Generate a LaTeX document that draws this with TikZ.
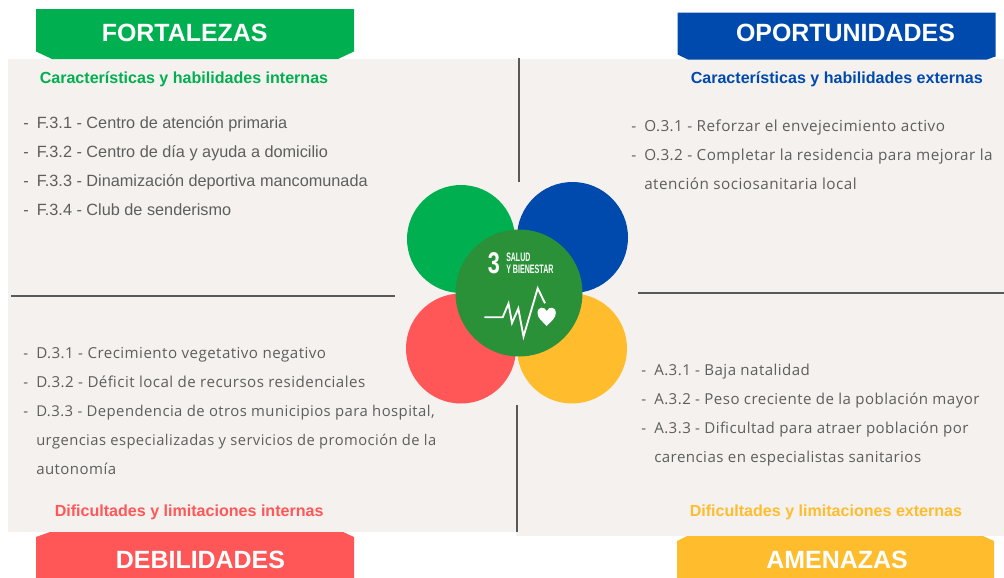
\documentclass[tikz,border=0pt]{standalone}
\usepackage{fontspec}
\setmainfont{Liberation Sans}
\newfontfamily\bodyfont[LetterSpace=3]{Open Sans}
\definecolor{cgreen}{HTML}{00B050}
\definecolor{cblue}{HTML}{004AAD}
\definecolor{cred}{HTML}{FF5757}
\definecolor{cyellow}{HTML}{FFBD2E}
\definecolor{csdg}{HTML}{2A9139}
\definecolor{cpanel}{HTML}{F4F1EE}
\definecolor{ctext}{HTML}{5E5E5E}
\definecolor{crule}{HTML}{595959}
\tikzset{
  x=0.75pt,y=-0.75pt,
  banner/.style={anchor=base,inner sep=0pt,text=white,font=\bfseries\fontsize{18.7}{18.7}\selectfont},
  subhead/.style={anchor=base west,inner sep=0pt,font=\bfseries\fontsize{12.05}{13}\selectfont},
  arialitem/.style={anchor=base west,inner sep=0pt,text=ctext,font=\fontsize{12.2}{13}\selectfont},
  bodyitem/.style={anchor=base west,inner sep=0pt,text=ctext,font=\bodyfont\fontsize{#1}{13}\selectfont},
  bodyitem/.default=11.25,
  divider/.style={draw=crule,line width=1.5pt},
  icontext/.style={anchor=base west,inner sep=0pt,text=white},
}
\begin{document}
\begin{tikzpicture}
\useasboundingbox (0,0) rectangle (1004,578);
% panels
\fill[cpanel] (8,59) rectangle (516,532);
\fill[cpanel] (516,59) rectangle (1004,536);
% dividers
\coordinate (vta) at (518.5,58); \coordinate (vtb) at (518.5,182);
\coordinate (vba) at (517,405); \coordinate (vbb) at (517,532);
\coordinate (hla) at (11,295.5); \coordinate (hlb) at (395,295.5);
\coordinate (hra) at (638,293); \coordinate (hrb) at (1004,293);
\draw[divider] (vta) -- (vtb);
\draw[divider] (vba) -- (vbb);
\draw[divider] (hla) -- (hlb);
\draw[divider] (hra) -- (hrb);
% banners
\fill[cgreen] (36,9) -- (354,9) -- (354,51.5) -- (338,59) -- (52,59) -- (36,51.5) -- cycle;
\fill[cblue] (677.5,12.5) -- (995.5,12.5) -- (995.5,56.5) -- (987,59.5) -- (688,59.5) -- (677.5,54.5) -- cycle;
\fill[cred] (50,532) -- (343,532) -- (354,537) -- (354,578) -- (36,578) -- (36,537) -- cycle;
\fill[cyellow] (687,536) -- (983,536) -- (994,541) -- (994,578) -- (677,578) -- (677,541) -- cycle;
\node[banner] (fort) at (184.7,41) {FORTALEZAS};
\node[banner] (opor) at (845.5,41) {OPORTUNIDADES};
\node[banner] (debi) at (200.5,568) {DEBILIDADES};
\node[banner] (amen) at (837,568) {AMENAZAS};
% subheads
\node[subhead,text=cgreen] (sf) at (39.5,83.2) {Características y habilidades internas};
\node[subhead,text=cblue] (so) at (690.5,83.2) {Características y habilidades externas};
\node[subhead,text=cred] (sd) at (54.5,516.2) {Dificultades y limitaciones internas};
\node[subhead,text=cyellow] (sa) at (689.5,516.2) {Dificultades y limitaciones externas};
% F
\foreach \n/\y/\t in {1/128/{F.3.1 - Centro de atención primaria},2/157/{F.3.2 - Centro de día y ayuda a domicilio},3/186/{F.3.3 - Dinamización deportiva mancomunada},4/215/{F.3.4 - Club de senderismo}}{
  \node[arialitem] (fd\n) at (23,\y) {-};
  \node[arialitem] (f\n) at (36.5,\y) {\t};
}
% D
\foreach \n/\y/\s/\t in {1/358.3/11.35/{D.3.1 - Crecimiento vegetativo negativo},2/387.5/11.35/{D.3.2 - Déficit local de recursos residenciales},3/416.5/11.15/{D.3.3 - Dependencia de otros municipios para hospital,}}{
  \node[bodyitem] (dd\n) at (23,\y) {-};
  \node[bodyitem=\s] (d\n) at (36,\y) {\t};
}
\node[bodyitem=11.05] (d4) at (36,445.5) {urgencias especializadas y servicios de promoción de la};
\node[bodyitem] (d5) at (36,474.5) {autonomía};
% O
\foreach \n/\y/\t in {1/131.5/{O.3.1 - Reforzar el envejecimiento activo},2/160.7/{O.3.2 - Completar la residencia para mejorar la}}{
  \node[bodyitem=11.45] (od\n) at (631,\y) {-};
  \node[bodyitem=11.45] (o\n) at (644,\y) {\t};
}
\node[bodyitem=11.45] (o3) at (644,189.8) {atención sociosanitaria local};
% A
\foreach \n/\y/\t in {1/375/{A.3.1 - Baja natalidad},2/404/{A.3.2 - Peso creciente de la población mayor},3/433.5/{A.3.3 - Dificultad para atraer población por}}{
  \node[bodyitem=11.3] (ad\n) at (641,\y) {-};
  \node[bodyitem=11.3] (a\n) at (654,\y) {\t};
}
\node[bodyitem=11.3] (a4) at (654,462.7) {carencias en especialistas sanitarios};
% circles
\fill[cgreen] (461,239) circle[radius=54];
\fill[cblue] (572.5,237.5) circle[radius=55.5];
\fill[cred] (461,348.5) circle[radius=55];
\fill[cyellow] (572,348.5) circle[radius=55];
\fill[csdg] (519,293) circle[radius=63.5];
% SDG icon
\node[icontext] (num) at (487.5,273.3) {\scalebox{0.72}[1]{\bfseries\fontsize{22.5}{22.5}\selectfont 3}};
\node[icontext] (sal) at (506,261) {\scalebox{0.57}[1]{\bfseries\fontsize{9.2}{9.2}\selectfont SALUD}};
\node[icontext] (bie) at (506,273.3) {\scalebox{0.58}[1]{\bfseries\fontsize{9.2}{9.2}\selectfont Y BIENESTAR}};
\draw[white,line width=1.4pt,line join=miter] (484.3,317.3) -- (502.7,317.3) -- (508.5,303.5) -- (512,323) -- (518.3,308.5) -- (523.5,336.5) -- (537.7,288.3) -- (545,303.3);
\fill[white] (546.7,326) .. controls (542,321) and (537.5,318) .. (537.5,313) .. controls (537.5,306.5) and (544.5,306) .. (546.7,311) .. controls (549,306) and (555.8,306.5) .. (555.8,313) .. controls (555.8,318) and (551.5,321) .. (546.7,326) -- cycle;
\end{tikzpicture}
\end{document}
